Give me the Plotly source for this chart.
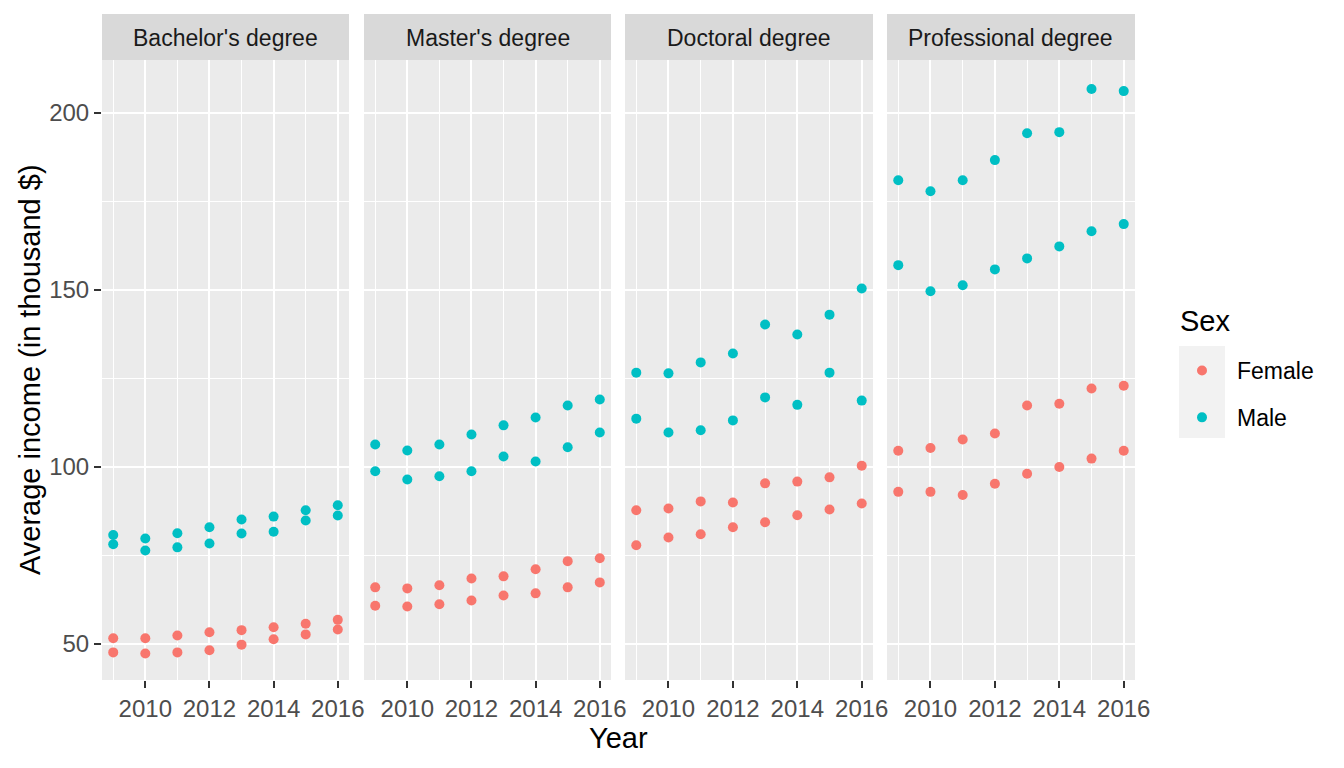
# Average income by degree and sex, 2009-2016
# facet grid of scatter plots, ggplot look

from plotly.subplots import make_subplots
import plotly.graph_objects as go

# Data
years = [2009, 2010, 2011, 2012, 2013, 2014, 2015, 2016]
degrees = ["Bachelor's degree", "Master's degree", "Doctoral degree", "Professional degree"]
sexes = ["Female", "Male"]

# two readings per year for each degree / sex
bachelor_female = [51.5, 51.5, 52.3, 53.2, 53.8, 54.6, 55.6, 56.7,
                   47.5, 47.2, 47.5, 48.1, 49.7, 51.2, 52.6, 54.0]
bachelor_male = [80.7, 79.7, 81.2, 82.9, 85.1, 85.9, 87.7, 89.1,
                 78.1, 76.3, 77.2, 78.3, 81.1, 81.6, 84.8, 86.2]
master_female = [65.9, 65.6, 66.5, 68.4, 69.0, 71.0, 73.3, 74.1,
                 60.7, 60.5, 61.1, 62.2, 63.6, 64.2, 65.9, 67.3]
master_male = [106.3, 104.6, 106.3, 109.1, 111.7, 113.9, 117.3, 119.0,
               98.7, 96.4, 97.3, 98.7, 102.9, 101.5, 105.5, 109.7]
doctoral_female = [87.7, 88.2, 90.2, 89.9, 95.3, 95.8, 97.0, 100.3,
                   77.8, 80.0, 80.9, 82.9, 84.3, 86.3, 87.9, 89.6]
doctoral_male = [126.6, 126.4, 129.5, 132.0, 140.2, 137.4, 143.0, 150.4,
                 113.6, 109.7, 110.3, 113.1, 119.6, 117.5, 126.6, 118.7]
professional_female = [104.5, 105.3, 107.7, 109.4, 117.3, 117.8, 122.1, 122.9,
                       92.9, 92.9, 92.0, 95.2, 98.0, 99.9, 102.3, 104.5]
professional_male = [181.0, 177.9, 181.0, 186.7, 194.3, 194.6, 206.8, 206.2,
                     157.0, 149.6, 151.3, 155.8, 158.9, 162.3, 166.6, 168.6]

x_ticks = [2010, 2012, 2014, 2016]
x_minor = [2009, 2011, 2013, 2015]
y_ticks = [50, 100, 150, 200]
y_minor = [75, 125, 175]

# Styling
# page body keeps its 8px margin, so the figure is 16px smaller than the window
OFF = 8
W, H = 1328, 752
colors = {"Female": "#F8766D", "Male": "#00BFC4"}
font_name = "Liberation Sans, Arial, sans-serif"
panel_px = [(102, 349), (364, 611), (625, 873), (887, 1135)]
plot_top, plot_bottom = 60, 680
strip_top = 14


# page pixel -> paper fraction
def px_x(p):
  return (p - OFF) / W


def px_y(p):
  return 1 - (p - OFF) / H


def main():
  data = [
    (bachelor_female, bachelor_male),
    (master_female, master_male),
    (doctoral_female, doctoral_male),
    (professional_female, professional_male),
  ]

  fig = make_subplots(rows=1, cols=4, shared_yaxes=True, horizontal_spacing=0.01)

  for i, (fem, male) in enumerate(data):
    for sex, vals in zip(sexes, (fem, male)):
      fig.add_trace(
        go.Scatter(
          x=years + years, y=vals, mode="markers", name=sex,
          legendgroup=sex, showlegend=(i == 0),
          marker=dict(color=colors[sex], size=10, line=dict(width=0)),
        ),
        row=1, col=i + 1
      )

  # axes for each panel
  for i, (left, right) in enumerate(panel_px):
    fig.update_xaxes(
      domain=[px_x(left), px_x(right)], range=[2008.65, 2016.35],
      tickmode="array", tickvals=x_ticks, ticktext=[str(t) for t in x_ticks],
      ticks="outside", ticklen=7, tickwidth=2, tickcolor="#333333",
      tickfont=dict(size=24, color="#4D4D4D", family=font_name),
      showgrid=True, gridcolor="white", gridwidth=2.2, zeroline=False, showline=False,
      minor=dict(tickmode="array", tickvals=x_minor, showgrid=True,
                 gridcolor="white", gridwidth=1.1, ticks=""),
      row=1, col=i + 1
    )
    fig.update_yaxes(
      domain=[px_y(plot_bottom), px_y(plot_top)], range=[39.7, 215.0],
      tickmode="array", tickvals=y_ticks,
      showgrid=True, gridcolor="white", gridwidth=2.2, zeroline=False, showline=False,
      minor=dict(tickmode="array", tickvals=y_minor, showgrid=True,
                 gridcolor="white", gridwidth=1.1, ticks=""),
      row=1, col=i + 1
    )
    if i == 0:
      fig.update_yaxes(
        ticks="outside", ticklen=7, tickwidth=2, tickcolor="#333333",
        tickfont=dict(size=24, color="#4D4D4D", family=font_name),
        row=1, col=1
      )
    else:
      fig.update_yaxes(showticklabels=False, ticks="", row=1, col=i + 1)

    # strip header
    fig.add_shape(
      type="rect", xref="paper", yref="paper",
      x0=px_x(left), x1=px_x(right), y0=px_y(plot_top), y1=px_y(strip_top),
      fillcolor="#D9D9D9", line=dict(width=0), layer="below"
    )
    fig.add_annotation(
      text=degrees[i], xref="paper", yref="paper",
      x=px_x((left + right) / 2), y=px_y((plot_top + strip_top) / 2 + 1),
      xanchor="center", yanchor="middle",
      showarrow=False, font=dict(size=23, color="#1A1A1A", family=font_name)
    )

  # legend key background
  fig.add_shape(
    type="rect", xref="paper", yref="paper",
    x0=px_x(1179), x1=px_x(1225), y0=px_y(438), y1=px_y(346),
    fillcolor="#F2F2F2", line=dict(width=0), layer="below"
  )
  # legend title
  fig.add_annotation(
    text="Sex", xref="paper", yref="paper", x=px_x(1178), y=px_y(321),
    xanchor="left", yanchor="middle",
    showarrow=False, font=dict(size=29, color="black", family=font_name)
  )

  # axis titles
  fig.add_annotation(
    text="Year", xref="paper", yref="paper", x=px_x(618), y=px_y(738),
    xanchor="center", yanchor="middle",
    showarrow=False, font=dict(size=29, color="black", family=font_name)
  )
  fig.add_annotation(
    text="Average income (in thousand $)", xref="paper", yref="paper",
    x=px_x(30), y=px_y(370), textangle=-90, xanchor="center", yanchor="middle",
    showarrow=False, font=dict(size=29, color="black", family=font_name)
  )

  fig.update_layout(
    width=W, height=H, autosize=False,
    # legend must not push the right margin
    margin=dict(l=0, r=0, t=0, b=0, autoexpand=False),
    paper_bgcolor="white", plot_bgcolor="#EBEBEB",
    font=dict(family=font_name, color="black"),
    legend=dict(
      font=dict(size=23, color="black"),
      x=px_x(1167), y=px_y(349), xanchor="left", yanchor="top",
      traceorder="grouped", tracegroupgap=14, itemwidth=60,
      bgcolor="rgba(0,0,0,0)",
    ),
  )

  fig.write_html("out.html")


if __name__ == '__main__':
  main()
